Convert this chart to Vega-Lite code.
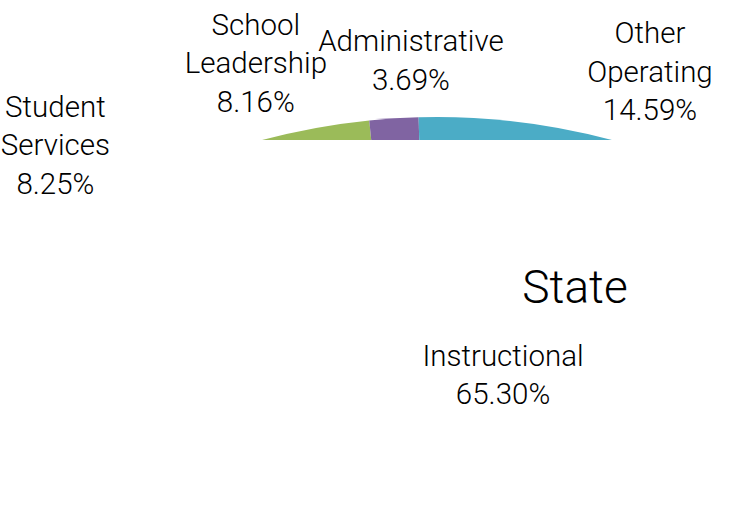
{
  "$schema": "https://vega.github.io/schema/vega-lite/v6.json",
  "autosize": "none",
  "width": 743,
  "height": 140,
  "padding": {"left": 0, "top": 0, "right": 0, "bottom": 388},
  "background": "white",
  "config": {"view": {"stroke": null}},
  "title": {
    "text": "State",
    "orient": "top",
    "frame": "group",
    "anchor": "start",
    "align": "center",
    "baseline": "alphabetic",
    "dx": 575,
    "offset": -360,
    "font": "Roboto",
    "fontSize": 46,
    "fontWeight": 300,
    "color": "black"
  },
  "data": {
    "values": [
      {"seq": 1, "category": "Student Services", "value": 8.25, "label": "Student\nServices\n8.25%"},
      {"seq": 2, "category": "School Leadership", "value": 8.16, "label": "School\nLeadership\n8.16%"},
      {"seq": 3, "category": "Administrative", "value": 3.69, "label": "\nAdministrative\n3.69%"},
      {"seq": 4, "category": "Other Operating", "value": 14.59, "label": "Other\nOperating\n14.59%"},
      {"seq": 5, "category": "Instructional", "value": 65.30, "label": "Instructional\n65.30%"}
    ]
  },
  "resolve": {"scale": {"theta": "independent"}},
  "layer": [
    {
      "mark": {"type": "arc", "x": 437, "y": 794, "radius": 677, "clip": true, "strokeWidth": 0},
      "encoding": {
        "theta": {"field": "value", "type": "quantitative", "stack": true,
                  "scale": {"domain": [0, 100], "range": [-0.4252, 1.5551]}},
        "order": {"field": "seq", "type": "quantitative"},
        "color": {"field": "category", "type": "nominal", "legend": null,
                  "scale": {"domain": ["Student Services", "School Leadership", "Administrative", "Other Operating", "Instructional"],
                            "range": ["#FFFFFF", "#9BBB59", "#8064A2", "#4BACC6", "#FFFFFF"]}}
      }
    },
    {
      "transform": [{"filter": "datum.category !== 'Instructional'"}],
      "mark": {"type": "text", "x": 437, "y": 794, "radius": 752, "dy": -38.5, "align": "center", "baseline": "middle",
               "font": "Roboto", "fontSize": 29.5, "fontWeight": 300, "lineHeight": 38.5, "lineBreak": "\n", "color": "black"},
      "encoding": {
        "theta": {"field": "value", "type": "quantitative", "stack": true,
                  "scale": {"domain": [0, 100], "range": [-0.6775, 2.8438]}},
        "order": {"field": "seq", "type": "quantitative"},
        "detail": {"field": "category", "type": "nominal"},
        "text": {"field": "label", "type": "nominal"}
      }
    },
    {
      "transform": [{"filter": "datum.category === 'Instructional'"}],
      "mark": {"type": "text", "x": 437, "y": 794, "radius": 442, "align": "center", "baseline": "middle",
               "font": "Roboto", "fontSize": 29.5, "fontWeight": 300, "lineHeight": 38.5, "lineBreak": "\n", "color": "black"},
      "encoding": {
        "theta": {"field": "value", "type": "quantitative", "stack": true,
                  "scale": {"domain": [0, 100], "range": [0, 0.4592]}},
        "order": {"field": "seq", "type": "quantitative"},
        "detail": {"field": "category", "type": "nominal"},
        "text": {"field": "label", "type": "nominal"}
      }
    }
  ]
}
